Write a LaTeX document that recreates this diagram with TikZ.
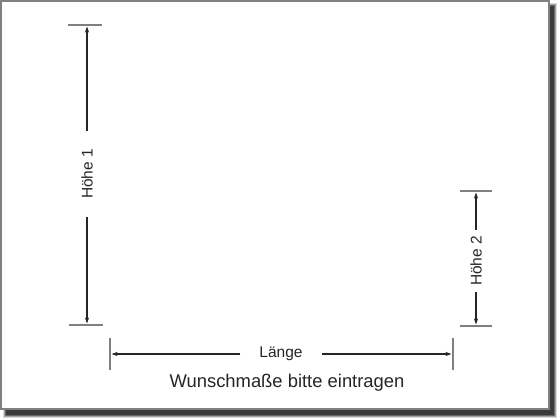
\documentclass[tikz,border=0pt]{standalone}
\usepackage{fontspec}
\setmainfont{Liberation Sans}
\usepackage{tikz}
\usetikzlibrary{arrows.meta}
\tikzset{
  dim/.style={
    draw=black!85,
    line width=1.1pt,
    -{Stealth[length=6pt,width=4pt]}},
  ext/.style={
    draw=black!50,
    line width=1.3pt},
  lbl/.style={
    font=\fontsize{15.5}{17}\selectfont,
    text=black!85}
  }
\begin{document}
\begin{tikzpicture}[x=1pt,y=-1pt]
		\useasboundingbox (0,0) rectangle (560,420);
		% shadow
		\foreach \s/\o in {0/0.15,1/0.25,2/0.35,3/0.45} {
			\fill [black, opacity=\o] (3+\s,3+\s) rectangle (557-\s,418-\s);
		}
		\draw [black!50, line width=1.5pt, fill=white] (1,1) rectangle (549,409);
		% extension lines
		\node (h1top) at (85,25) [minimum width=34pt, inner sep=0pt] {};
		\node (h1bot) at (86,325) [minimum width=34pt, inner sep=0pt] {};
		\node (h2top) at (476,191) [minimum width=32pt, inner sep=0pt] {};
		\node (h2bot) at (476,326) [minimum width=32pt, inner sep=0pt] {};
		\node (lleft) at (110,354) [minimum height=32pt, inner sep=0pt] {};
		\node (lright) at (453,354) [minimum height=32pt, inner sep=0pt] {};
		\draw [ext] (h1top.west) to (h1top.east);
		\draw [ext] (h1bot.west) to (h1bot.east);
		\draw [ext] (h2top.west) to (h2top.east);
		\draw [ext] (h2bot.west) to (h2bot.east);
		\draw [ext] (lleft.north) to (lleft.south);
		\draw [ext] (lright.north) to (lright.south);
		% labels
		\node (hoehe1) at (87,174) [lbl, rotate=90, inner xsep=18pt] {Höhe 1};
		\node (hoehe2) at (476,261) [lbl, rotate=90, inner xsep=6pt] {Höhe 2};
		\node (laenge) at (281,354) [lbl, inner xsep=19pt] {Länge};
		\node (wunsch) at (287,383) [font=\fontsize{18.4}{20}\selectfont, text=black!85] {Wunschmaße bitte eintragen};
		% dimension arrows
		\draw [dim] (hoehe1) to (87,26.5);
		\draw [dim] (hoehe1) to (87,323.5);
		\draw [dim] (hoehe2) to (476,192.5);
		\draw [dim] (hoehe2) to (476,324.5);
		\draw [dim] (laenge) to (111.5,354);
		\draw [dim] (laenge) to (451.5,354);
	\end{tikzpicture}
\end{document}
